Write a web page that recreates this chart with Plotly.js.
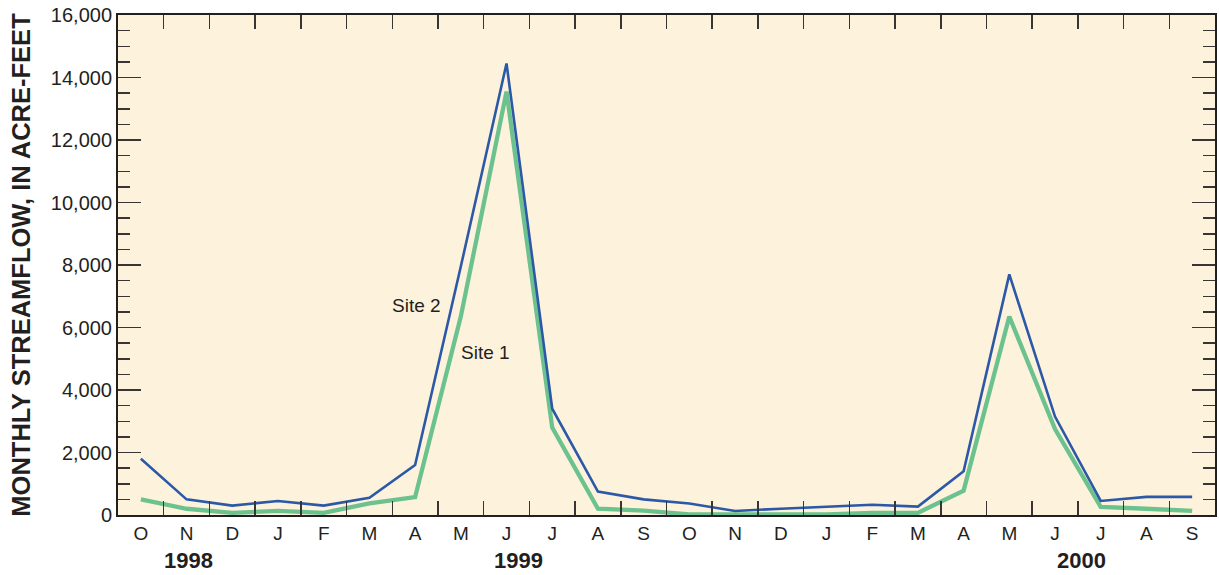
<!DOCTYPE html>
<html>
<head>
<meta charset="utf-8">
<script src="https://cdn.plot.ly/plotly-3.0.1.min.js"></script>
<style>
  html, body { margin: 0; padding: 0; background: #ffffff; }
  #chart { width: 1219px; height: 575px; }
</style>
</head>
<body>
<div id="chart"></div>
<script>
// Water years 1999-2000, October 1998 through September 2000
const months = [
  '1998-10', '1998-11', '1998-12', '1999-01', '1999-02', '1999-03',
  '1999-04', '1999-05', '1999-06', '1999-07', '1999-08', '1999-09',
  '1999-10', '1999-11', '1999-12', '2000-01', '2000-02', '2000-03',
  '2000-04', '2000-05', '2000-06', '2000-07', '2000-08', '2000-09'
];
const monthLetters = [
  'O', 'N', 'D', 'J', 'F', 'M', 'A', 'M', 'J', 'J', 'A', 'S',
  'O', 'N', 'D', 'J', 'F', 'M', 'A', 'M', 'J', 'J', 'A', 'S'
];

// Monthly streamflow, in acre-feet
const site1 = [
  500, 200, 70, 130, 70, 370, 570, 6350, 13550, 2800, 200, 140,
  20, 10, 10, 20, 70, 70, 780, 6350, 2750, 260, 200, 130
];
const site2 = [
  1800, 500, 300, 450, 300, 550, 1600, 7950, 14450, 3400, 750, 500,
  370, 130, 200, 260, 330, 270, 1400, 7700, 3150, 450, 580, 580
];

// Year labels under the month axis
const yearLabels = ['1998', '1999', '2000'];
const yearMonths = ['1998-11', '1999-06', '2000-06'];

const ink = '#231f20';
const fontFamily = '"Liberation Sans", Arial, Helvetica, sans-serif';

const traces = [
  {
    name: 'Site 1',
    x: months,
    y: site1,
    type: 'scatter',
    mode: 'lines',
    line: { color: '#6cc28e', width: 4.3 },
    hoverinfo: 'skip'
  },
  {
    name: 'Site 2',
    x: months,
    y: site2,
    type: 'scatter',
    mode: 'lines',
    line: { color: '#2b59a8', width: 2.6 },
    hoverinfo: 'skip'
  }
];

const annotations = [
  { text: 'Site 2', x: 6.02, y: 6720, xref: 'x', yref: 'y', showarrow: false,
    font: { family: fontFamily, size: 19, color: ink } },
  { text: 'Site 1', x: 7.53, y: 5216, xref: 'x', yref: 'y', showarrow: false,
    font: { family: fontFamily, size: 19, color: ink } }
];
// small offsets so each year sits where it belongs under its months
const yearShift = [0.04, 0.27, 0.57];
yearLabels.forEach((label, i) => {
  annotations.push({
    text: '<b>' + label + '</b>',
    x: months.indexOf(yearMonths[i]) + yearShift[i],
    y: -0.09,
    xref: 'x', yref: 'paper',
    yanchor: 'middle',
    showarrow: false,
    font: { family: fontFamily, size: 22, color: ink }
  });
});

const layout = {
  width: 1219,
  height: 575,
  margin: { l: 118, r: 4, t: 15, b: 60, autoexpand: false },
  paper_bgcolor: '#ffffff',
  plot_bgcolor: '#fdf2dc',
  showlegend: false,
  separators: '.,',
  font: { family: fontFamily, size: 18, color: ink },
  xaxis: {
    type: 'category',
    categoryorder: 'array',
    categoryarray: months,
    range: [-0.5, months.length - 0.5],
    tickmode: 'array',
    tickvals: months,
    ticktext: monthLetters,
    tickson: 'boundaries',
    ticks: 'inside',
    ticklen: 14,
    tickwidth: 1.5,
    tickcolor: '#3a3535',
    showline: true,
    linecolor: ink,
    linewidth: 2,
    mirror: 'ticks',
    showgrid: false,
    zeroline: false,
    fixedrange: true,
    tickfont: { family: fontFamily, size: 19, color: ink }
  },
  yaxis: {
    range: [0, 16000],
    tickmode: 'linear',
    tick0: 0,
    dtick: 2000,
    tickformat: ',d',
    ticks: 'inside',
    ticklen: 23,
    tickwidth: 1.5,
    tickcolor: '#3a3535',
    minor: { dtick: 500, ticks: 'inside', ticklen: 12, tickwidth: 1.5, tickcolor: '#3a3535' },
    showline: true,
    linecolor: ink,
    linewidth: 2,
    mirror: 'ticks',
    showgrid: false,
    zeroline: false,
    fixedrange: true,
    tickfont: { family: fontFamily, size: 20, color: ink },
    title: {
      text: '<b>MONTHLY STREAMFLOW, IN ACRE-FEET</b>',
      font: { family: fontFamily, size: 25.5, color: ink },
      standoff: 13
    }
  },
  annotations: annotations
};

Plotly.newPlot('chart', traces, layout, { displayModeBar: false, staticPlot: true });
</script>
</body>
</html>
